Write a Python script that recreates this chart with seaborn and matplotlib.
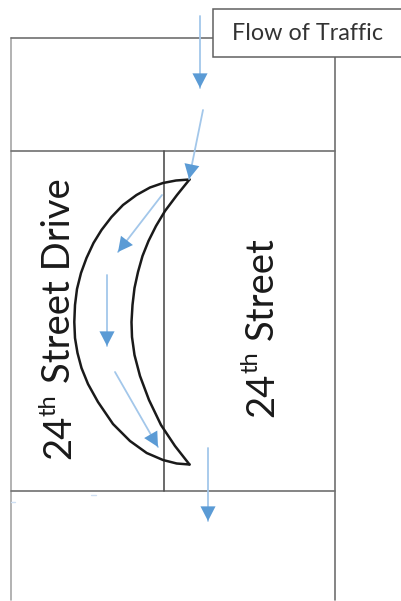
import numpy as np
import pandas as pd
import matplotlib
matplotlib.use('Agg')
import matplotlib.pyplot as plt
import seaborn as sns

sns.set_theme(style='white')
plt.rcParams['font.family'] = ['Lato', 'DejaVu Sans']

# road lines in pixels
road_x = [[11, 11], [11, 213], [335, 335], [11, 335], [11, 335], [164, 164]]
road_y = [[38, 600], [38, 38], [57, 600], [151, 151], [491, 491], [151, 491]]
road_colors = ['#a6a6a6', '#707070', '#707070', '#707070', '#707070', '#505050']

# crescent outline
outer_x = [189.5, 176, 163, 150, 136.5, 123, 111.5, 101.5, 93.5, 86.5, 81, 77, 75, 74.3, 75, 77.5, 81.5, 88, 98, 113, 130, 146.7, 163, 176.7, 189.5]
outer_y = [179.5, 180.5, 183, 187.5, 195, 205, 217, 230, 243, 258, 273, 289, 305, 322, 338, 353, 368, 384, 402, 424, 441, 453, 460, 463.5, 464.5]
inner_x = [189.5, 177, 165, 156, 148.5, 142.5, 138, 134.5, 132.5, 131.5, 132, 134.5, 140, 149, 161, 175, 189.5]
inner_y = [179.5, 195, 211, 226, 241, 256, 272, 288, 305, 322, 337, 355, 376, 400, 425, 446, 464.5]

# traffic arrows, start and end
arrow_x0 = [200, 203, 162, 107, 115, 208]
arrow_y0 = [16, 110, 195, 275, 372, 448]
arrow_x1 = [200, 189, 118, 107, 158, 208]
arrow_y1 = [88, 179, 252, 346, 447, 521]

# stray blue marks under the lower road line
speck_x = [[11, 15], [91, 96]]
speck_y = [[502, 502], [495, 495]]

fig, ax = plt.subplots(figsize=(4.01, 6.01), dpi=100)
ax.set_position([0, 0, 1, 1])

for xs, ys, col in zip(road_x, road_y, road_colors):
    sns.lineplot(x=xs, y=ys, color=col, lw=1.2, sort=False, estimator=None, ax=ax)

crescent = pd.DataFrame({
    'x': outer_x + inner_x,
    'y': outer_y + inner_y,
    'edge': ['outer'] * len(outer_x) + ['inner'] * len(inner_x),
})
sns.lineplot(data=crescent, x='x', y='y', units='edge', color='#1a1a1a', lw=1.8,
             sort=False, estimator=None, ax=ax)

for xs, ys in zip(speck_x, speck_y):
    sns.lineplot(x=xs, y=ys, color='#cfe0f3', lw=1, sort=False, estimator=None, ax=ax)

# label box sits over the top road line
ax.add_patch(plt.Rectangle((213, 9), 195, 48, fc='white', ec='#606060', lw=1.1, zorder=5))
ax.text(232, 34, 'Flow of Traffic', fontsize=16.8, color='#333333', va='center', ha='left', zorder=6)

for x0, y0, x1, y1 in zip(arrow_x0, arrow_y0, arrow_x1, arrow_y1):
    # pale shaft, darker head
    sns.lineplot(x=[x0, x1], y=[y0, y1], color='#a3c7ea', lw=1.3, sort=False, estimator=None, ax=ax)
    ax.annotate('', xy=(x1, y1), xytext=(x0, y0), zorder=4,
                arrowprops=dict(arrowstyle='-|>,head_length=0.62,head_width=0.32',
                                lw=0, shrinkA=0, shrinkB=0,
                                mutation_scale=17, fc='#5b9bd5', ec='#5b9bd5'))

txt = dict(rotation=90, rotation_mode='anchor', ha='left', va='baseline', color='#1a1a1a')
ax.text(70, 459, '24', fontsize=27.5, **txt)
ax.text(55, 416, 'th', fontsize=17, **txt)
ax.text(70, 383, 'Street Drive', fontsize=27.5, **txt)
ax.text(273, 417, '24', fontsize=27.5, **txt)
ax.text(258, 373, 'th', fontsize=17, **txt)
ax.text(273, 340, 'Street', fontsize=27.5, **txt)

ax.set_xlim(0, 401)
ax.set_ylim(601, 0)
ax.set_xlabel('')
ax.set_ylabel('')
ax.axis('off')
fig.savefig('out.png', dpi=100)
